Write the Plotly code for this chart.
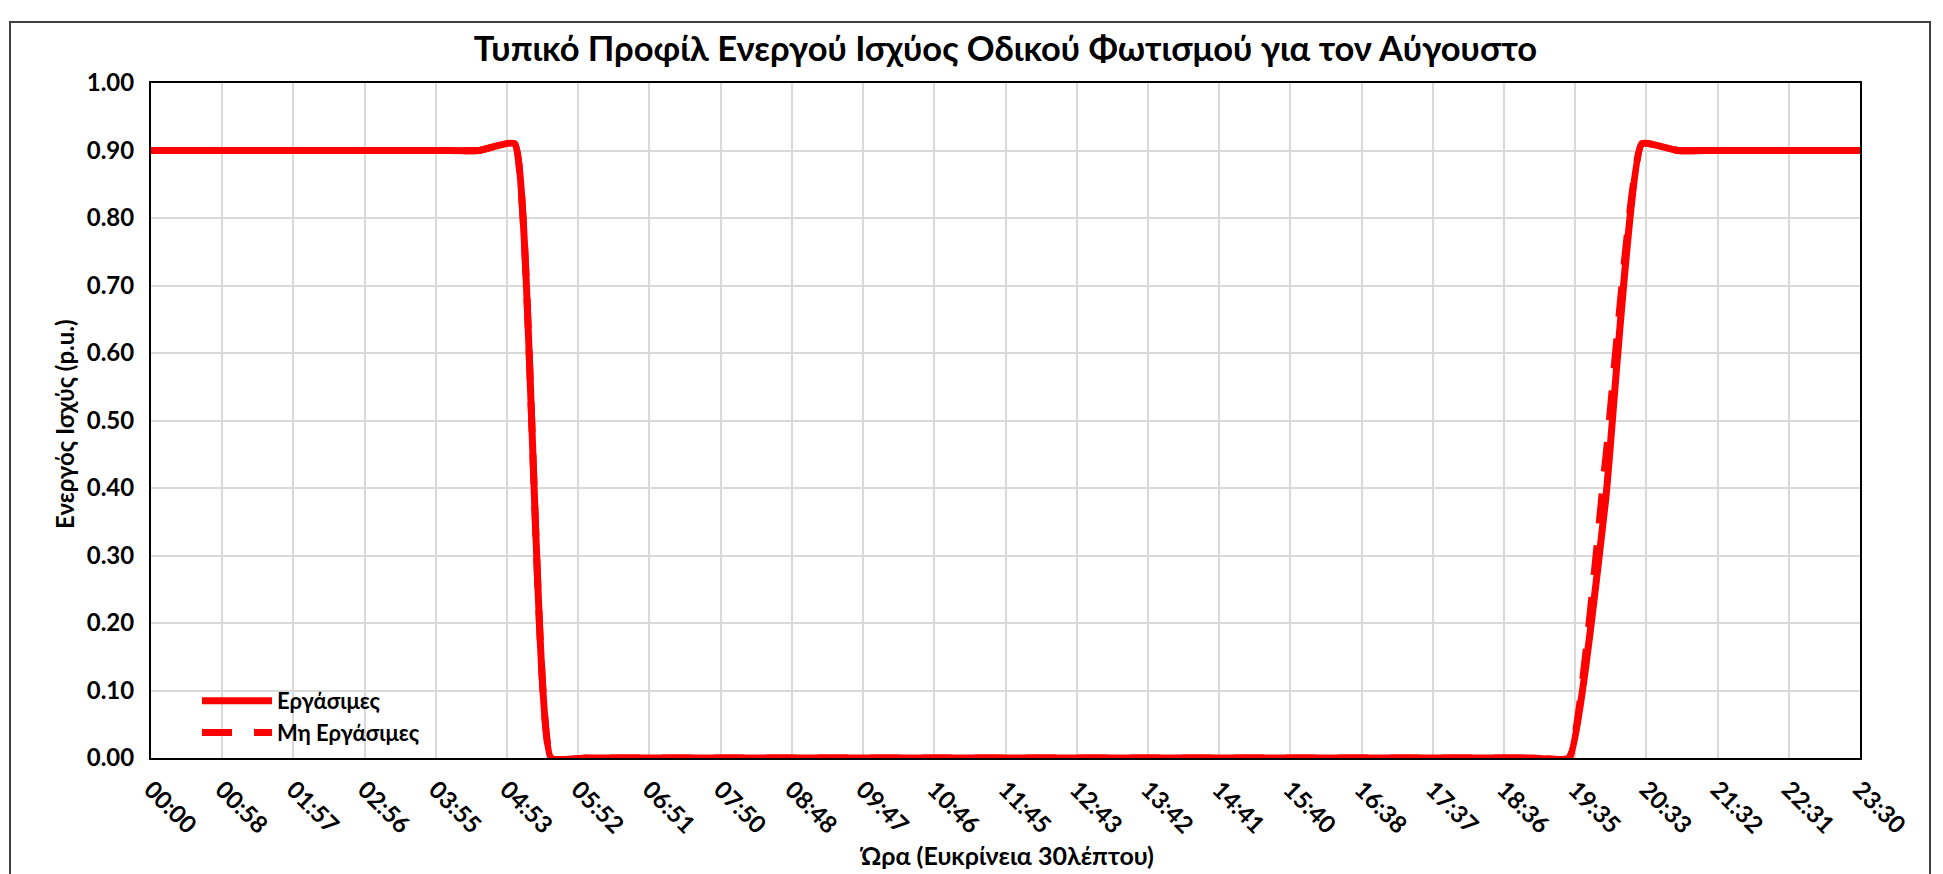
import plotly.graph_objects as go

# Half-hour time slots of the day
time_slots = [
    "00:00", "00:30", "01:00", "01:30", "02:00", "02:30", "03:00", "03:30",
    "04:00", "04:30", "05:00", "05:30", "06:00", "06:30", "07:00", "07:30",
    "08:00", "08:30", "09:00", "09:30", "10:00", "10:30", "11:00", "11:30",
    "12:00", "12:30", "13:00", "13:30", "14:00", "14:30", "15:00", "15:30",
    "16:00", "16:30", "17:00", "17:30", "18:00", "18:30", "19:00", "19:30",
    "20:00", "20:30", "21:00", "21:30", "22:00", "22:30", "23:00", "23:30",
]

# Active power (p.u.) on working days
working_days = [
    0.90, 0.90, 0.90, 0.90, 0.90, 0.90, 0.90, 0.90,
    0.90, 0.90, 0.91, 0.00, 0.00, 0.00, 0.00, 0.00,
    0.00, 0.00, 0.00, 0.00, 0.00, 0.00, 0.00, 0.00,
    0.00, 0.00, 0.00, 0.00, 0.00, 0.00, 0.00, 0.00,
    0.00, 0.00, 0.00, 0.00, 0.00, 0.00, 0.00, 0.00,
    0.38, 0.91, 0.90, 0.90, 0.90, 0.90, 0.90, 0.90,
]

# Active power (p.u.) on non-working days
non_working_days = [
    0.90, 0.90, 0.90, 0.90, 0.90, 0.90, 0.90, 0.90,
    0.90, 0.90, 0.91, 0.00, 0.00, 0.00, 0.00, 0.00,
    0.00, 0.00, 0.00, 0.00, 0.00, 0.00, 0.00, 0.00,
    0.00, 0.00, 0.00, 0.00, 0.00, 0.00, 0.00, 0.00,
    0.00, 0.00, 0.00, 0.00, 0.00, 0.00, 0.00, 0.00,
    0.44, 0.91, 0.90, 0.90, 0.90, 0.90, 0.90, 0.90,
]

# Axis tick labels (24 equal steps across 00:00 - 23:30)
x_tick_labels = [
    "00:00", "00:58", "01:57", "02:56", "03:55", "04:53", "05:52", "06:51",
    "07:50", "08:48", "09:47", "10:46", "11:45", "12:43", "13:42", "14:41",
    "15:40", "16:38", "17:37", "18:36", "19:35", "20:33", "21:32", "22:31",
    "23:30",
]
y_tick_values = [0.0, 0.1, 0.2, 0.3, 0.4, 0.5, 0.6, 0.7, 0.8, 0.9, 1.0]


def to_minutes(hhmm):
    h, m = hhmm.split(":")
    return int(h) * 60 + int(m)


x_minutes = [to_minutes(t) for t in time_slots]
x_end = x_minutes[-1]
x_tick_positions = [i * x_end / (len(x_tick_labels) - 1) for i in range(len(x_tick_labels))]

FONT = "Lato, 'Noto Sans', sans-serif"
RED = "#ff0000"
SMOOTH = 0.35

fig = go.Figure()
fig.add_trace(go.Scatter(
    x=x_minutes, y=working_days, name="Εργάσιμες", mode="lines",
    line=dict(color=RED, width=7, shape="spline", smoothing=SMOOTH),
))
fig.add_trace(go.Scatter(
    x=x_minutes, y=non_working_days, name="Μη Εργάσιμες", mode="lines",
    line=dict(color=RED, width=7, shape="spline", smoothing=SMOOTH, dash="30px,22px"),
))

W, H = 1943, 874
L, R, T, B = 151, 83, 83, 116
pw, ph = W - L - R, H - T - B


def px_x(px):
    return (px - L) / pw


def px_y(py):
    return (H - B - py) / ph


fig.update_layout(
    width=W, height=H,
    margin=dict(l=L, r=R, t=T, b=B),
    paper_bgcolor="white", plot_bgcolor="white",
    font=dict(family=FONT, color="black"),
    title=dict(
        text="<b>Τυπικό Προφίλ Ενεργού Ισχύος Οδικού Φωτισμού για τον Αύγουστο</b>",
        x=0.5175, xanchor="center", xref="container",
        y=1 - 49 / H, yanchor="middle", yref="container",
        font=dict(size=34.5, family=FONT, color="black"),
    ),
    xaxis=dict(
        range=[0, x_end], tickmode="array",
        tickvals=x_tick_positions, ticktext=x_tick_labels,
        tickangle=45, tickfont=dict(size=24, family=FONT, color="black", weight="bold"),
        showgrid=True, gridcolor="#d9d9d9", gridwidth=2,
        showline=True, linecolor="black", linewidth=2, mirror=True,
        ticks="", zeroline=False, ticklabelstandoff=6,
    ),
    yaxis=dict(
        range=[0, 1], tickmode="array", tickvals=y_tick_values,
        tickformat=".2f",
        tickfont=dict(size=24, family=FONT, color="black", weight="bold"),
        showgrid=True, gridcolor="#d9d9d9", gridwidth=2,
        showline=True, linecolor="black", linewidth=2, mirror=True,
        ticks="", zeroline=False, ticklabelstandoff=10,
    ),
    legend=dict(
        x=px_x(197), y=px_y(680), xanchor="left", yanchor="top",
        bgcolor="rgba(0,0,0,0)", borderwidth=0,
        font=dict(size=22, family=FONT, color="black", weight="bold"),
        itemwidth=70, tracegroupgap=0,
    ),
    showlegend=True,
)

# White backing behind the legend (hides the gridlines there)
fig.add_shape(
    type="rect", xref="paper", yref="paper",
    x0=px_x(161), x1=px_x(464), y0=px_y(748), y1=px_y(683),
    line=dict(width=0), fillcolor="white", layer="between",
)

# Axis titles
fig.add_annotation(
    text="<b>Ενεργός Ισχύς (p.u.)</b>", textangle=-90,
    x=px_x(64), y=px_y(424), xref="paper", yref="paper",
    xanchor="center", yanchor="middle", showarrow=False,
    font=dict(size=24, family=FONT, color="black"),
)
fig.add_annotation(
    text="<b>Ώρα (Ευκρίνεια 30λέπτου)</b>",
    x=px_x(1006), y=px_y(855), xref="paper", yref="paper",
    xanchor="center", yanchor="middle", showarrow=False,
    font=dict(size=25, family=FONT, color="black"),
)

# Chart-area frame
fig.add_shape(
    type="rect", xref="paper", yref="paper",
    x0=px_x(10), x1=px_x(1930), y0=px_y(900), y1=px_y(22),
    line=dict(color="#404040", width=2), fillcolor="rgba(0,0,0,0)", layer="below",
)

fig.write_html("out.html")
